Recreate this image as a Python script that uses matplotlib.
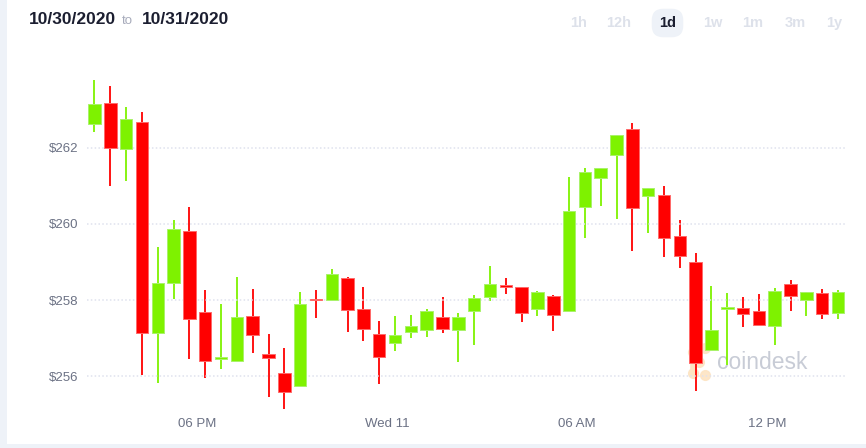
import numpy as np
import matplotlib
matplotlib.use("Agg")
import matplotlib.pyplot as plt
from matplotlib.patches import Rectangle

# Dữ liệu nến 30 phút (giờ tính từ 00:00 ngày đầu)
start_hour = 14.75
opens = [262.61, 263.17, 261.96, 262.68, 257.13, 258.46, 259.81, 257.68, 256.45, 256.41,
         257.59, 256.59, 256.08, 255.75, 258.02, 258.00, 258.58, 257.76, 257.12, 256.88,
         257.15, 257.20, 257.56, 257.20, 257.71, 258.09, 258.40, 258.34, 257.76, 258.11,
         257.71, 260.45, 261.21, 261.80, 262.48, 260.72, 260.75, 259.68, 259.00, 256.69,
         257.77, 257.79, 257.71, 257.32, 258.41, 258.00, 258.19, 257.65]
highs = [263.78, 263.62, 263.07, 262.94, 259.40, 260.10, 260.43, 258.27, 257.90, 258.60,
         258.29, 257.11, 256.73, 258.22, 258.27, 258.81, 258.60, 258.34, 257.46, 257.58,
         257.61, 257.77, 258.09, 257.65, 258.13, 258.90, 258.59, 258.34, 258.25, 258.12,
         261.22, 261.46, 261.46, 262.34, 262.66, 260.93, 260.99, 260.10, 259.23, 258.38,
         258.19, 258.07, 258.15, 258.31, 258.52, 258.21, 258.28, 258.27]
lows = [262.40, 260.99, 261.13, 256.03, 255.82, 258.03, 256.45, 255.95, 256.18, 256.40,
        256.60, 255.45, 255.13, 255.75, 257.52, 258.00, 257.17, 256.93, 255.79, 256.65,
        257.00, 257.04, 257.13, 256.38, 256.82, 257.98, 258.16, 257.43, 257.59, 257.19,
        257.71, 259.62, 260.48, 260.12, 259.30, 259.77, 259.12, 258.85, 255.62, 256.69,
        256.30, 257.29, 257.34, 256.82, 257.72, 257.59, 257.51, 257.51]
closes = [263.15, 262.00, 262.75, 257.13, 258.46, 259.86, 257.50, 256.41, 256.50, 257.55,
          257.07, 256.49, 255.58, 257.90, 257.99, 258.68, 257.74, 257.25, 256.51, 257.08,
          257.33, 257.71, 257.23, 257.56, 258.06, 258.41, 258.35, 257.65, 258.22, 257.61,
          260.35, 261.35, 261.46, 262.33, 260.41, 260.93, 259.64, 259.16, 256.34, 257.22,
          257.81, 257.64, 257.34, 258.25, 258.11, 258.21, 257.63, 258.21]

y_ticks = [256, 258, 260, 262]
y_labels = ["$256", "$258", "$260", "$262"]
x_ticks = [18, 24, 30, 36]
x_labels = ["06 PM", "Wed 11", "06 AM", "12 PM"]
ranges = ["1h", "12h", "1d", "1w", "1m", "3m", "1y"]

GREEN = "#7ef200"
RED = "#ff0000"
W, H = 866, 448

fig = plt.figure(figsize=(W / 100, H / 100), dpi=100)
fig.patch.set_facecolor("white")

# Dải nền xám nhạt bên trái và phía dưới
fig.patches.append(Rectangle((0, 0), 7 / W, 1, transform=fig.transFigure,
                             facecolor="#eef2f8", edgecolor="none", zorder=0))
fig.patches.append(Rectangle((0, 0), 1, 4 / H, transform=fig.transFigure,
                             facecolor="#eef2f8", edgecolor="none", zorder=0))

ax = fig.add_axes([87 / W, (H - 412) / H, (846 - 87) / W, (412 - 70) / H])
ax.patch.set_visible(False)

# Logo mờ coindesk (nằm dưới các nến)
logo_x = [693, 705, 699, 693, 705]
logo_y = [352, 348, 362, 373, 375]
ax.plot([x / W for x in logo_x], [1 - y / H for y in logo_y], "o", color="#fde4c2",
        markersize=7, alpha=0.9, transform=fig.transFigure, zorder=1, clip_on=False)
ax.plot([693 / W, 693 / W], [1 - 352 / H, 1 - 373 / H], color="#fde4c2", linewidth=4,
        transform=fig.transFigure, zorder=1, clip_on=False)
ax.text(717 / W, 1 - 362 / H, "coindesk", fontsize=16.5, color="#c8ccd6",
        family="Liberation Sans", ha="left", va="center", zorder=1,
        transform=fig.transFigure)

times = start_hour + 0.5 * np.arange(len(opens))
body_w = 0.395
for t, o, h, l, c in zip(times, opens, highs, lows, closes):
    col = GREEN if c >= o else RED
    edge = "#a9f26a" if c >= o else "#ff6a6a"
    ax.vlines(t, l, h, color=col, linewidth=1.3, zorder=2)
    bottom = min(o, c)
    height = max(abs(c - o), 0.05)
    ax.add_patch(Rectangle((t - body_w / 2, bottom), body_w, height,
                           facecolor=col, edgecolor=edge, linewidth=0.7, zorder=3))

ax.set_xlim(start_hour - 0.237, times[-1] + 0.253)
ax.set_ylim(255.06, 264.04)
ax.set_yticks(y_ticks)
ax.set_yticklabels(y_labels)
ax.set_xticks(x_ticks)
ax.set_xticklabels(x_labels)
ax.tick_params(length=0, labelsize=9.5, labelcolor="#6b7184")
ax.tick_params(axis="y", pad=6.5)
ax.tick_params(axis="x", pad=4)
for lbl in ax.get_xticklabels() + ax.get_yticklabels():
    lbl.set_fontfamily("Liberation Sans")
for s in ax.spines.values():
    s.set_visible(False)
ax.set_axisbelow(False)
ax.grid(axis="y", color="#dfe2ee", linestyle=(0, (1, 1.5)), linewidth=1.1, zorder=4)

# Tiêu đề ngày
fig.text(29 / W, 1 - 20 / H, "10/30/2020", fontsize=12.5, fontweight="bold",
         color="#1b1e30", family="Liberation Sans", va="center")
fig.text(127 / W, 1 - 21 / H, "to", fontsize=9.5, color="#a7abbb",
         family="Liberation Sans", va="center", ha="center")
fig.text(142 / W, 1 - 20 / H, "10/31/2020", fontsize=12.5, fontweight="bold",
         color="#1b1e30", family="Liberation Sans", va="center")

# Nút chọn khoảng thời gian
btn_x = [579, 619, 667.5, 713, 753, 795, 834]
for bx, r in zip(btn_x, ranges):
    active = r == "1d"
    box = dict(boxstyle="round,pad=0.5,rounding_size=0.8", facecolor="#eef2f8",
               edgecolor="none") if active else None
    fig.text(bx / W, 1 - 23 / H, r, fontsize=10.5, fontweight="bold",
             color="#1b1e30" if active else "#dde1ea", family="Liberation Sans",
             ha="center", va="center", bbox=box)

fig.savefig("out.png", dpi=100)
